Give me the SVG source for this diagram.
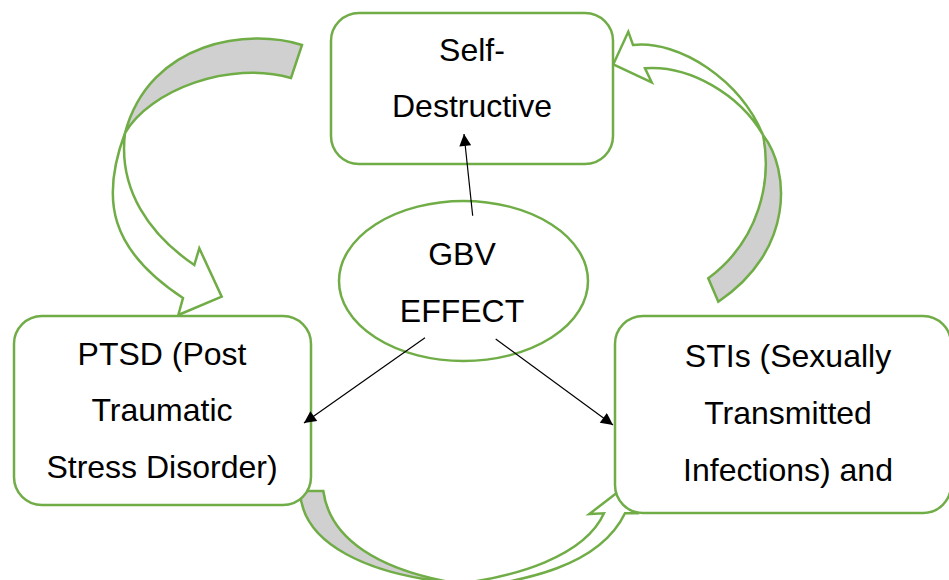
<svg xmlns="http://www.w3.org/2000/svg" width="949" height="580" viewBox="0 0 949 580">
<style>
.box{fill:#fff;stroke:#70AD47;stroke-width:2.5}
.band{fill:#fff;stroke:#70AD47;stroke-width:2.5;stroke-linejoin:miter}
.back{fill:#D0D0D0;stroke:#70AD47;stroke-width:2.5}
.lbl{font-family:"Liberation Sans",Arial,sans-serif;font-size:32px;fill:#000;text-anchor:middle}
.conn{stroke:#000;stroke-width:1.2;fill:none}
</style>
<defs>
<marker id="ah" viewBox="0 0 10 10" refX="10" refY="5" markerWidth="15" markerHeight="12" markerUnits="userSpaceOnUse" orient="auto">
<path d="M0,0 L10,5 L0,10 z" fill="#000"/>
</marker>
</defs>
<rect width="949" height="580" fill="#fff"/>

<g id="curved-arrows">
<g id="arrow-top-left">
<path class="back" d="M302,45 C250,28 150,40 125,133 C150,90 230,60 291,78 Z"/>
<path class="band" d="M125,133 C100,200 110,250 183,298 L178.3,315 L221.7,296.7 L199.3,248.3 L194.3,265 C150,235 118,190 125,133 Z"/>
</g>
<g id="arrow-top-right">
<path class="band" d="M633,45 C680,40 740,80 763,135 C740,95 690,65 645,68.3 L651.7,82.3 L613.3,64.3 L628.3,31.7 Z"/>
<path class="back" d="M763,135 C790,170 795,250 718.3,301.7 L708.3,278.3 C760,240 772,180 763,135 Z"/>
</g>
<g id="arrow-bottom">
<path class="back" d="M300,491 L323.3,491 C330,540 380,570 455,583 C370,575 302,545 300,491 Z"/>
<path class="band" d="M440,586 C520,578 585,555 604,513.3 L589.3,514 L618.3,491.7 L636.7,513.3 L625,513.3 C600,565 530,582 440,592 Z"/>
</g>
</g>

<g id="node-self-destructive">
<rect class="box" x="331" y="13" width="282" height="151" rx="28" ry="28"/>
<text class="lbl" x="472" y="61">Self-</text>
<text class="lbl" x="472" y="117">Destructive</text>
</g>

<g id="node-ptsd">
<rect class="box" x="14" y="316" width="297" height="189" rx="28" ry="28"/>
<text class="lbl" x="162" y="365">PTSD (Post</text>
<text class="lbl" x="162" y="421">Traumatic</text>
<text class="lbl" x="162" y="478">Stress Disorder)</text>
</g>

<g id="node-stis">
<rect class="box" x="615" y="316" width="336" height="197" rx="28" ry="28"/>
<text class="lbl" x="788" y="367">STIs (Sexually</text>
<text class="lbl" x="788" y="424">Transmitted</text>
<text class="lbl" x="788" y="481">Infections) and</text>
</g>

<g id="node-gbv">
<ellipse class="box" cx="463.5" cy="281" rx="124.5" ry="80"/>
<text class="lbl" x="462" y="265">GBV</text>
<text class="lbl" x="462" y="322">EFFECT</text>
</g>

<g id="connectors">
<line class="conn" x1="472.7" y1="215.7" x2="464" y2="134" marker-end="url(#ah)"/>
<line class="conn" x1="425" y1="337.7" x2="304" y2="423" marker-end="url(#ah)"/>
<line class="conn" x1="495.7" y1="339" x2="613" y2="425" marker-end="url(#ah)"/>
</g>
</svg>
